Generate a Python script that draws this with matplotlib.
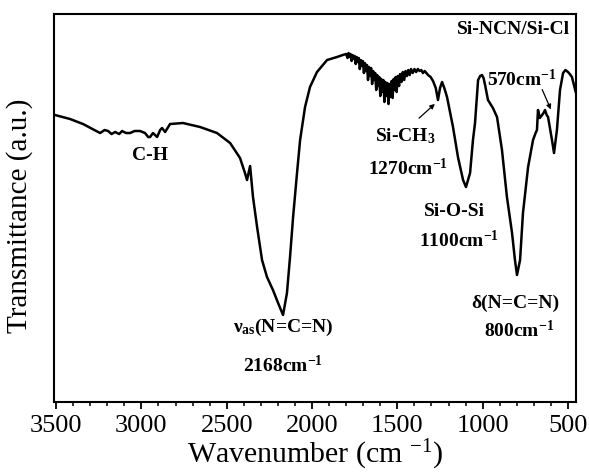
import numpy as np
import matplotlib
matplotlib.use("Agg")
import matplotlib.pyplot as plt
from matplotlib.ticker import MultipleLocator

plt.rcParams['font.family'] = ['Liberation Serif', 'DejaVu Serif']
plt.rcParams['mathtext.fontset'] = 'custom'
plt.rcParams['mathtext.rm'] = 'Liberation Serif'
plt.rcParams['mathtext.bf'] = 'Liberation Serif:bold'
plt.rcParams['mathtext.it'] = 'Liberation Serif:italic'

# FTIR spectrum (wavenumber in cm-1, transmittance in a.u.)
wavenumber = [3506, 3418, 3342, 3242, 3215, 3195, 3175, 3154, 3130, 3113, 3090, 3066,
              3040, 3008, 2979, 2960, 2949, 2932, 2908, 2890, 2879, 2861, 2832, 2756,
              2656, 2557, 2480, 2422, 2393, 2381, 2363, 2346, 2322, 2293, 2264, 2229,
              2199, 2170, 2147, 2129, 2111, 2088, 2070, 2041, 2012, 1971, 1912, 1854,
              1820,
              1800, 1792, 1786, 1780, 1774, 1768, 1762, 1756, 1750, 1744, 1738, 1732,
              1726, 1720, 1714, 1708, 1702, 1696, 1690, 1684, 1678, 1672, 1666, 1660,
              1654, 1648, 1642, 1636, 1630, 1624, 1618, 1612, 1606, 1600, 1594, 1588,
              1582, 1576, 1570, 1564, 1558, 1552, 1546, 1540, 1534, 1528, 1522, 1516,
              1510, 1504, 1498, 1490, 1484, 1476, 1468, 1460, 1452, 1444, 1436, 1428,
              1420, 1410, 1400, 1390, 1380, 1370, 1360, 1350, 1340, 1330, 1320,
              1305, 1291, 1275,
              1262, 1250, 1238, 1225, 1209, 1174, 1145, 1115, 1098, 1074, 1057, 1045,
              1027, 1015, 1004, 995, 986, 969, 940, 916, 887, 858, 828, 811,
              799, 781, 764, 734, 705, 690, 682, 676, 665, 652, 640, 635,
              625, 617, 594, 582, 565, 547, 529, 515, 500, 490, 477, 465, 455]
transmittance = [287, 283, 278, 269, 272, 271, 268, 270, 268, 271, 269, 269,
                 271, 271, 269, 265, 265, 269, 265, 272, 274, 270, 278, 279,
                 275, 269, 259, 244, 229, 222, 236, 205, 175, 142, 125, 112,
                 99, 87, 109, 145, 185, 229, 262, 295, 315, 330, 342, 345,
                 347,
                 348, 344, 349, 345, 348, 341, 347, 343, 346, 338, 345, 340,
                 344, 333, 342, 336, 341, 329, 339, 331, 337, 322, 335, 326,
                 334, 318, 331, 322, 329, 312, 327, 316, 325, 306, 323, 310,
                 322, 300, 320, 306, 319, 298, 318, 305, 321, 304, 323, 312,
                 325, 310, 326, 316, 328, 320, 330, 322, 331, 326, 332, 327,
                 333, 329, 333, 330, 333, 331, 332, 329, 331, 329, 327,
                 325, 321, 314,
                 302, 314, 320, 314, 305, 275, 245, 222, 215, 229, 262, 279,
                 322, 326, 327, 324, 317, 302, 294, 285, 252, 205, 169, 142,
                 127, 142, 189, 235, 262, 269, 272, 292, 284, 287, 290, 292,
                 287, 285, 262, 249, 272, 312, 329, 332, 330, 328, 325, 317, 310]

fig = plt.figure(figsize=(5.89, 4.72), dpi=100)
ax = fig.add_axes([0.0917, 0.1483, 0.8863, 0.822])
ax.plot(wavenumber, transmittance, color='black', lw=1.8)

ax.set_xlim(3512, 453)
ax.set_ylim(0, 388)
ax.xaxis.set_major_locator(MultipleLocator(500))
ax.xaxis.set_minor_locator(MultipleLocator(100))
ax.tick_params(axis='x', which='major', direction='out', length=5, width=1.3,
               labelsize=19, pad=4)
ax.tick_params(axis='x', which='minor', direction='out', length=3, width=1.1)
ax.set_yticks([])
for s in ax.spines.values():
    s.set_linewidth(1.5)

ax.set_xlabel(r'Wavenumber (cm $^{-1}$)', fontsize=21.5, labelpad=1)
ax.set_ylabel('Transmittance (a.u.)', fontsize=21)
ax.yaxis.set_label_coords(-0.04, 0.48)

fs = 14
kw = dict(fontsize=fs, fontweight='bold', ha='center', va='center')
ax.text(2949, 247, 'C-H', **kw)
ax.text(2170, 75, r'ν$_{\mathbf{as}}$(N=C=N)', **kw)
ax.text(2170, 37, r'2168cm$^{\mathbf{-1}}$', **kw)
ax.text(1455, 266, r'Si-CH$_{\mathbf{3}}$', **kw)
ax.text(1440, 234, r'1270cm$^{\mathbf{-1}}$', **kw)
ax.text(1168, 191, 'Si-O-Si', **kw)
ax.text(1140, 162, r'1100cm$^{\mathbf{-1}}$', **kw)
ax.text(811, 99, 'δ(N=C=N)', **kw)
ax.text(787, 72, r'800cm$^{\mathbf{-1}}$', **kw)
ax.text(817, 373, 'Si-NCN/Si-Cl', **kw)
ax.text(770, 323, r'570cm$^{\mathbf{-1}}$', **kw)

arrow = dict(arrowstyle='-|>', color='black', lw=0.9, mutation_scale=7)
ax.annotate('', xy=(1268, 300), xytext=(1385, 282), arrowprops=arrow)
ax.annotate('', xy=(594, 290), xytext=(658, 315), arrowprops=arrow)

fig.savefig('out.png', dpi=100)
